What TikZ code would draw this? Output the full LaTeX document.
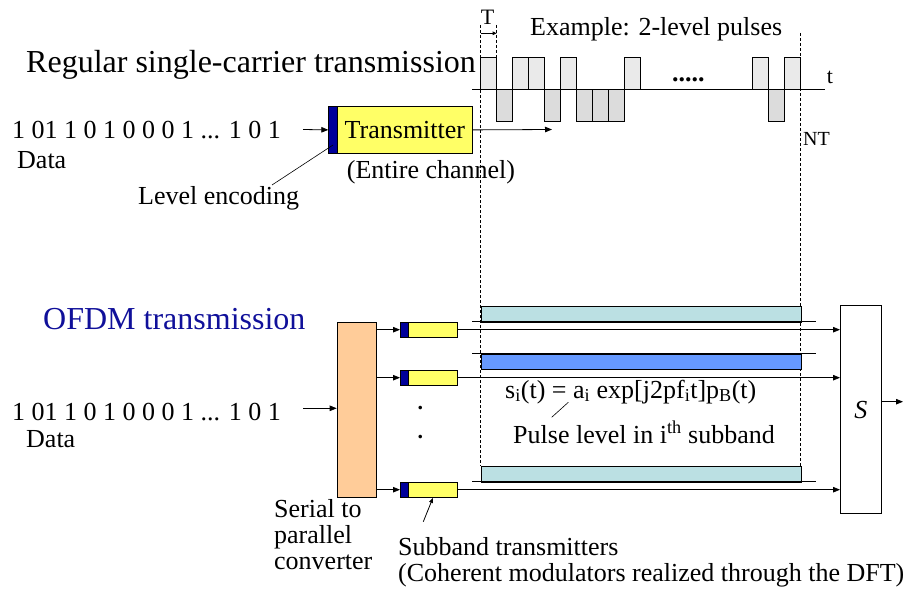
\documentclass[tikz,border=0pt]{standalone}
\usepackage{fontspec}
\setmainfont{Liberation Serif}
\usetikzlibrary{arrows.meta,calc}
\definecolor{txyellow}{HTML}{FFFF66}
\definecolor{dkblue}{HTML}{000099}
\definecolor{peach}{HTML}{FFCC99}
\definecolor{barcyan}{HTML}{BBE0E3}
\definecolor{barblue}{HTML}{6699FF}
\definecolor{pup}{HTML}{EAEAEA}
\definecolor{pdn}{HTML}{DCDCDC}
\definecolor{ofdmblue}{HTML}{10109A}
\begin{document}
\begin{tikzpicture}[x=1pt,y=-1pt]
\tikzset{
 lbl/.style={inner sep=0pt, anchor=base west, font=\fontsize{26}{30}\selectfont},
 head/.style={inner sep=0pt, anchor=base west, font=\fontsize{32}{38}\selectfont},
 box/.style={draw, line width=0.8pt, inner sep=0pt, anchor=north west},
 arr/.style={line width=0.8pt, -{Triangle[length=7pt,width=5.5pt]}},
 smallarr/.style={line width=0.8pt, -{Triangle[length=5pt,width=4pt]}},
 ln/.style={line width=0.8pt},
 dsh/.style={line width=0.9pt, dash pattern=on 3pt off 2pt},
}
\useasboundingbox (0,0) rectangle (920,591);

% ---------- dashed time markers ----------
\coordinate (dl1) at (480.7,25);
\coordinate (dl2) at (480.7,465.7);
\coordinate (dr1) at (800.7,33);
\coordinate (dr2) at (800.7,465.7);
\coordinate (dt1) at (496.7,25);
\coordinate (dt2) at (496.7,57.3);
\draw[dsh] (dl1) -- (dl2);
\draw[dsh] (dr1) -- (dr2);
\draw[dsh] (dt1) -- (dt2);

% ---------- top pulses ----------
\foreach \i in {0,2,3,5,9,17,19} {
  \draw[ln, fill=pup] (480.7+16*\i,57.3) rectangle ++(16,32);
}
\foreach \i in {1,4,6,7,8,18} {
  \draw[ln, fill=pdn] (480.7+16*\i,89.3) rectangle ++(16,31.7);
}
\coordinate (ax1) at (472.3,89.3);
\coordinate (ax2) at (825,89.3);
\draw[ln] (ax1) -- (ax2);
\node[inner sep=0pt, anchor=base west, font=\fontsize{22}{26}\selectfont] (tl) at (826.7,83.5) {t};
\node[inner sep=0pt, anchor=base west, font=\fontsize{26}{30}\selectfont\bfseries] (pdots) at (672,82) {.....};
\node[inner sep=0pt, anchor=base west, font=\fontsize{20}{24}\selectfont] (NT) at (803,146) {NT};

\node[inner sep=0pt, anchor=base, font=\fontsize{22}{24}\selectfont] (Tl) at (487.5,25) {T};
\coordinate (ta1) at (480.7,33.3);
\coordinate (ta2) at (496.7,33.3);
\draw[line width=0.8pt, -{Triangle[length=4pt,width=3.5pt]}] (ta1) -- (ta2);
\node[lbl] (ex) at (530,36) {Example: 2-level pulses};

% ---------- regular single carrier ----------
\node[head] (reg) at (26,73) {Regular single-carrier transmission};
\node[lbl] (dataA) at (12,139) {1 01 1 0 1 0 0 0 1 ... 1 0 1};
\node[lbl] (dataAl) at (17,168) {Data};
\node[lbl] (lvl) at (138,204) {Level encoding};
\node[box, fill=dkblue, minimum width=8.4pt, minimum height=47.6pt] (enc) at (328.3,105.7) {};
\node[box, fill=txyellow, minimum width=135.6pt, minimum height=47.6pt,
      font=\fontsize{26}{30}\selectfont] (tx) at (336.7,105.7) {Transmitter};
\node[lbl] (chan) at (346.7,178) {(Entire channel)};
\coordinate (dAin) at (303,129.5);
\draw[arr] (dAin) -- (enc.west);
\coordinate (txout) at (552,129.5);
\draw[arr] (tx.east) -- (txout);
\coordinate (lvlp) at (272,185);
\coordinate (encp) at (333,145);
\draw[line width=0.6pt] (lvlp) -- (encp);

% ---------- OFDM ----------
\node[head, text=ofdmblue] (ofdm) at (43,329.3) {OFDM transmission};
\node[lbl] (dataB) at (12,420) {1 01 1 0 1 0 0 0 1 ... 1 0 1};
\node[lbl] (dataBl) at (26,447) {Data};
\node[box, fill=peach, minimum width=39.3pt, minimum height=175.6pt] (sp) at (336.7,321.7) {};
\coordinate (dBin) at (303,408.3);
\draw[arr] (dBin) -- (sp.west |- dBin);

% bars
\node[box, fill=barcyan, minimum width=320pt, minimum height=16pt] (bar1) at (480.7,305.7) {};
\node[box, fill=barblue, minimum width=320pt, minimum height=15.6pt] (bar2) at (480.7,353.7) {};
\node[box, fill=barcyan, minimum width=320pt, minimum height=16pt] (bar3) at (480.7,465.7) {};
\coordinate (b1a) at (472.3,321.7); \coordinate (b1b) at (816,321.7);
\coordinate (b2a) at (472.3,353.7); \coordinate (b2b) at (816,353.7);
\coordinate (b3a) at (472.3,481.7); \coordinate (b3b) at (816,481.7);
\draw[ln] (b1a) -- (b1b);
\draw[ln] (b2a) -- (b2b);
\draw[ln] (b3a) -- (b3b);

% summing box
\node[box, fill=white, minimum width=40.7pt, minimum height=208.3pt,
      font=\fontsize{26}{30}\selectfont\itshape] (sum) at (840,305) {S};
\coordinate (sout) at (903,401.7);
\draw[arr] (sum.east |- sout) -- (sout);

% subband transmitters
\foreach \k/\yy in {1/329.3,2/377.3,3/489.3} {
  \node[box, fill=dkblue, minimum width=8.3pt, minimum height=15.6pt] (enc\k) at (400,\yy-7.8) {};
  \node[box, fill=txyellow, minimum width=48.4pt, minimum height=15.6pt] (tx\k) at (408.3,\yy-7.8) {};
  \draw[arr] (sp.east |- enc\k.west) -- (enc\k.west);
  \draw[arr] (tx\k.east) -- (sum.west |- tx\k.east);
}
\node[inner sep=0pt, anchor=base west, font=\fontsize{22}{26}\selectfont\bfseries] (vd1) at (417.5,409.5) {.};
\node[inner sep=0pt, anchor=base west, font=\fontsize{22}{26}\selectfont\bfseries] (vd2) at (417.5,438) {.};

% formula
\node[lbl] (form) at (505,398) {s\textsubscript{i}(t) = a\textsubscript{i} exp[j2pf\textsubscript{i}t]p\textsubscript{B}(t)};
\node[lbl] (plev) at (513,443) {Pulse level in i\textsuperscript{th} subband};
\coordinate (fp1) at (551.7,417.3);
\coordinate (fp2) at (568.3,402.3);
\draw[line width=0.6pt] (fp1) -- (fp2);

% bottom labels
\node[lbl] (ser) at (274,517) {Serial to};
\node[lbl] (par) at (274,543) {parallel};
\node[lbl] (conv) at (274,569) {converter};
\node[lbl] (sub) at (398,555) {Subband transmitters};
\node[lbl] (coh) at (398,581) {(Coherent modulators realized through the DFT)};
\coordinate (sbp) at (423.3,521.7);
\draw[smallarr] (sbp) -- (tx3.south);
\end{tikzpicture}
\end{document}
